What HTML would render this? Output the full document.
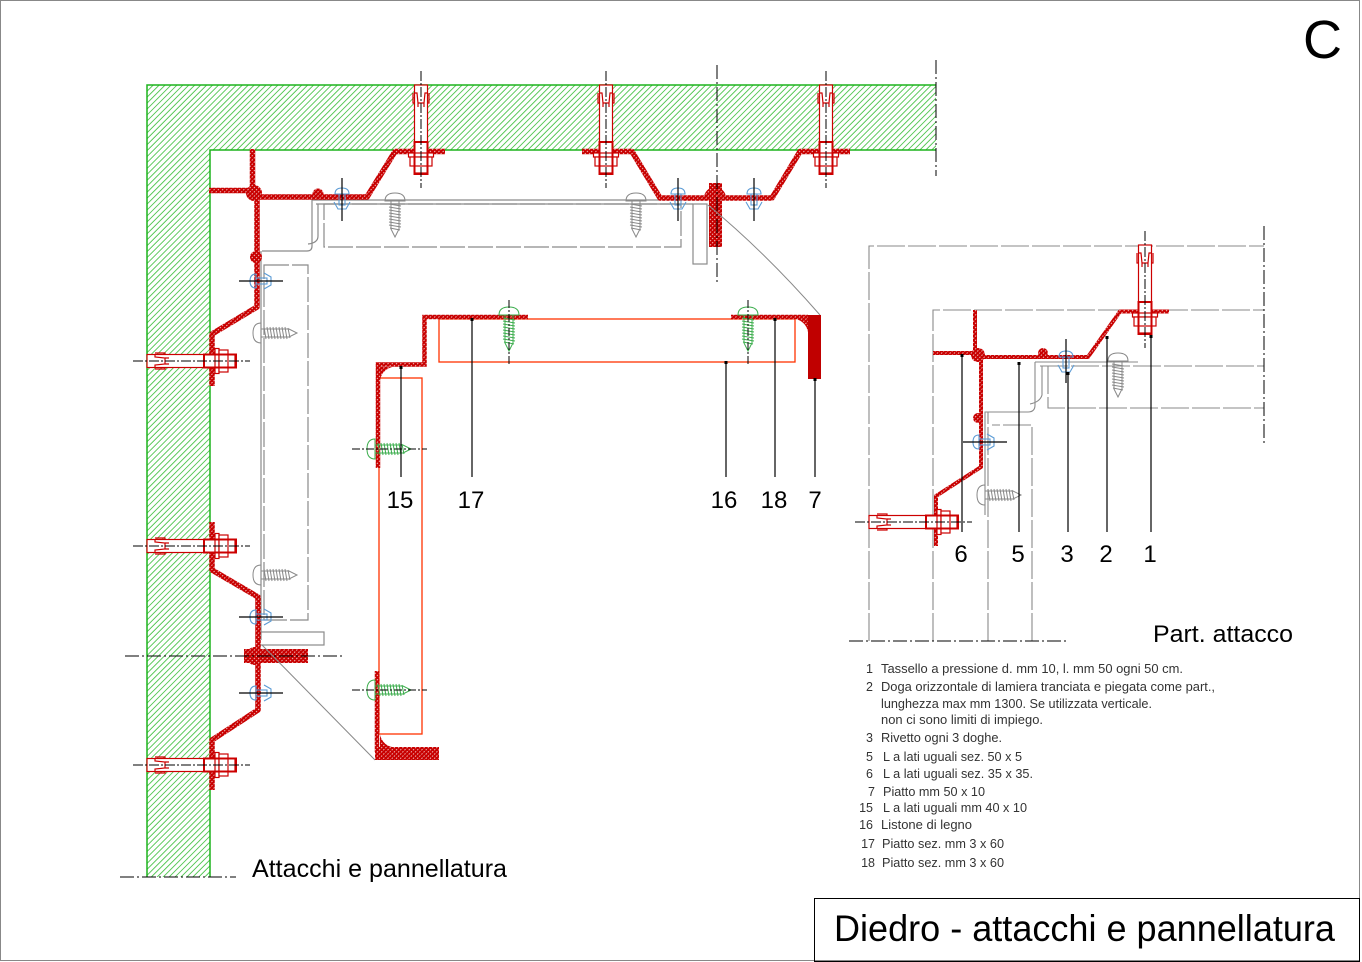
<!DOCTYPE html>
<html><head><meta charset="utf-8"><style>
html,body{margin:0;padding:0;background:#fff;}
svg{display:block;}
text{font-family:"Liberation Sans",Arial,sans-serif;}
</style></head><body>
<svg width="1362" height="962" viewBox="0 0 1362 962" xmlns="http://www.w3.org/2000/svg">
<defs>
<pattern id="gh" width="4.2" height="4.2" patternUnits="userSpaceOnUse" patternTransform="rotate(45)">
<line x1="0.5" y1="0" x2="0.5" y2="4.2" stroke="#28b828" stroke-width="0.75"/>
</pattern>
<pattern id="rh" width="3" height="3" patternUnits="userSpaceOnUse" patternTransform="rotate(45)">
<rect width="3" height="3" fill="#c80000"/>
<line x1="0.5" y1="0" x2="0.5" y2="3" stroke="#fff" stroke-width="0.7" stroke-dasharray="1.5,1.5"/>
</pattern>
</defs>

<!-- frame -->
<rect x="0.5" y="0.5" width="1359" height="960" fill="none" stroke="#888" stroke-width="1"/>
<text x="1303" y="58" font-size="54" fill="#000">C</text>

<!-- wall -->
<path d="M147,85 H936 V150 H210 V877 H147 Z" fill="url(#gh)"/>
<path d="M936,85 H147 V877 M936,150 H210 V877" fill="none" stroke="#1db31d" stroke-width="1.5"/>
<path d="M936,60 V176" stroke="#000" stroke-width="1" stroke-dasharray="14,3,2,3"/>
<path d="M120,877 H236" stroke="#000" stroke-width="1" stroke-dasharray="14,3,2,3"/>

<!-- gray elements main -->
<g fill="none" stroke="#8a8a8a" stroke-width="1.2">
<path d="M312,200 H707 M316,204 H693"/>
<rect x="324" y="204" width="357" height="43" stroke-dasharray="25,3"/>
<rect x="693" y="204" width="14" height="60"/>
<path d="M312,200 V246 Q312,251 307,251 H262"/>
<path d="M318,204 V236 Q318,243 308,244"/>
<path d="M261,251 V640"/>
<rect x="264" y="265" width="44" height="355" stroke-dasharray="25,3"/>
<rect x="260" y="632" width="64" height="13"/>
</g>

<!-- gray screws main -->
<g fill="none" stroke="#888" stroke-width="1">
<g transform="translate(395,193)"><path d="M-10,8 Q-10,0 0,0 Q10,0 10,8 Z"/><path d="M-4,8 V36 L0,44 L4,36 V8"/><path d="M-6,11 L6,13 M-6,14 L6,16 M-6,17 L6,19 M-6,20 L6,22 M-6,23 L6,25 M-6,26 L6,28 M-6,29 L6,31 M-6,32 L6,34 M-5,35 L5,37"/></g>
<g transform="translate(636,193)"><path d="M-10,8 Q-10,0 0,0 Q10,0 10,8 Z"/><path d="M-4,8 V36 L0,44 L4,36 V8"/><path d="M-6,11 L6,13 M-6,14 L6,16 M-6,17 L6,19 M-6,20 L6,22 M-6,23 L6,25 M-6,26 L6,28 M-6,29 L6,31 M-6,32 L6,34 M-5,35 L5,37"/></g>
<g transform="matrix(0,1,1,0,253,333)"><path d="M-10,8 Q-10,0 0,0 Q10,0 10,8 Z"/><path d="M-4,8 V36 L0,44 L4,36 V8"/><path d="M-6,11 L6,13 M-6,14 L6,16 M-6,17 L6,19 M-6,20 L6,22 M-6,23 L6,25 M-6,26 L6,28 M-6,29 L6,31 M-6,32 L6,34 M-5,35 L5,37"/></g>
<g transform="matrix(0,1,1,0,253,575)"><path d="M-10,8 Q-10,0 0,0 Q10,0 10,8 Z"/><path d="M-4,8 V36 L0,44 L4,36 V8"/><path d="M-6,11 L6,13 M-6,14 L6,16 M-6,17 L6,19 M-6,20 L6,22 M-6,23 L6,25 M-6,26 L6,28 M-6,29 L6,31 M-6,32 L6,34 M-5,35 L5,37"/></g>
</g>

<!-- red profiles main -->
<g fill="none" stroke="url(#rh)" stroke-width="5.5" stroke-linejoin="round">
<path d="M209,190.5 H253"/>
<path d="M252.5,149 V195"/>
<path d="M253,197 H367 L395,151.5 H445"/>
<path d="M582,151.5 H632 L660,198 H772 L800,151.5 H850"/>
<path d="M257,195 V307 L212,334 V386"/>
<path d="M212,522 V570 L258,597 V710 L212,740 V790"/>
</g>
<g fill="url(#rh)">
<circle cx="254" cy="193" r="8"/>
<circle cx="318" cy="194" r="5.5"/>
<circle cx="256" cy="257" r="6"/>
<path d="M704,198 A11,11 0 0 1 726,198 Z"/>
<rect x="709" y="183" width="13" height="64"/>
<path d="M246,656 A9,9 0 0 1 264,656 Z"/>
<path d="M246,656 A9,9 0 0 0 264,656 Z"/>
<rect x="244" y="649" width="64" height="14"/>
</g>

<!-- dash-dot lines main -->
<g stroke="#000" stroke-width="1" stroke-dasharray="14,3,2,3" fill="none">
<path d="M717,65 V284"/>
<path d="M125,656 H345"/>
</g>

<!-- bolts -->
<g>
<g transform="translate(421,0)"><g fill="#fff" stroke="#c00" stroke-width="1.2"><rect x="-6.5" y="85" width="13" height="88"/><rect x="-12.5" y="153" width="25" height="4"/><rect x="-11" y="157" width="22" height="9"/><rect x="-6.5" y="142" width="13" height="32" fill="none" stroke-width="2"/><path fill="none" d="M-6.5,93 H-4 L-3,103 H3 L4,93 H6.5 M-8,93 V103 H-6.5 M8,93 V103 H6.5 M-3,103 V107 M3,103 V107"/></g><path d="M0,71 V188" stroke="#000" stroke-width="1" stroke-dasharray="10,2,2,2"/></g>
<g transform="translate(606,0)"><g fill="#fff" stroke="#c00" stroke-width="1.2"><rect x="-6.5" y="85" width="13" height="88"/><rect x="-12.5" y="153" width="25" height="4"/><rect x="-11" y="157" width="22" height="9"/><rect x="-6.5" y="142" width="13" height="32" fill="none" stroke-width="2"/><path fill="none" d="M-6.5,93 H-4 L-3,103 H3 L4,93 H6.5 M-8,93 V103 H-6.5 M8,93 V103 H6.5 M-3,103 V107 M3,103 V107"/></g><path d="M0,71 V188" stroke="#000" stroke-width="1" stroke-dasharray="10,2,2,2"/></g>
<g transform="translate(826,0)"><g fill="#fff" stroke="#c00" stroke-width="1.2"><rect x="-6.5" y="85" width="13" height="88"/><rect x="-12.5" y="153" width="25" height="4"/><rect x="-11" y="157" width="22" height="9"/><rect x="-6.5" y="142" width="13" height="32" fill="none" stroke-width="2"/><path fill="none" d="M-6.5,93 H-4 L-3,103 H3 L4,93 H6.5 M-8,93 V103 H-6.5 M8,93 V103 H6.5 M-3,103 V107 M3,103 V107"/></g><path d="M0,71 V188" stroke="#000" stroke-width="1" stroke-dasharray="10,2,2,2"/></g>
<g transform="matrix(0,1,1,0,62,361)"><g fill="#fff" stroke="#c00" stroke-width="1.2"><rect x="-6.5" y="85" width="13" height="88"/><rect x="-12.5" y="153" width="25" height="4"/><rect x="-11" y="157" width="22" height="9"/><rect x="-6.5" y="142" width="13" height="32" fill="none" stroke-width="2"/><path fill="none" d="M-6.5,93 H-4 L-3,103 H3 L4,93 H6.5 M-8,93 V103 H-6.5 M8,93 V103 H6.5 M-3,103 V107 M3,103 V107"/></g><path d="M0,71 V188" stroke="#000" stroke-width="1" stroke-dasharray="10,2,2,2"/></g>
<g transform="matrix(0,1,1,0,62,546)"><g fill="#fff" stroke="#c00" stroke-width="1.2"><rect x="-6.5" y="85" width="13" height="88"/><rect x="-12.5" y="153" width="25" height="4"/><rect x="-11" y="157" width="22" height="9"/><rect x="-6.5" y="142" width="13" height="32" fill="none" stroke-width="2"/><path fill="none" d="M-6.5,93 H-4 L-3,103 H3 L4,93 H6.5 M-8,93 V103 H-6.5 M8,93 V103 H6.5 M-3,103 V107 M3,103 V107"/></g><path d="M0,71 V188" stroke="#000" stroke-width="1" stroke-dasharray="10,2,2,2"/></g>
<g transform="matrix(0,1,1,0,62,765)"><g fill="#fff" stroke="#c00" stroke-width="1.2"><rect x="-6.5" y="85" width="13" height="88"/><rect x="-12.5" y="153" width="25" height="4"/><rect x="-11" y="157" width="22" height="9"/><rect x="-6.5" y="142" width="13" height="32" fill="none" stroke-width="2"/><path fill="none" d="M-6.5,93 H-4 L-3,103 H3 L4,93 H6.5 M-8,93 V103 H-6.5 M8,93 V103 H6.5 M-3,103 V107 M3,103 V107"/></g><path d="M0,71 V188" stroke="#000" stroke-width="1" stroke-dasharray="10,2,2,2"/></g>
</g>

<!-- rivets main -->
<g>
<g transform="translate(342,199)"><g fill="none" stroke="#5b9bd5" stroke-width="1.1"><path d="M-7,-5 Q-7,-11 0,-11 Q7,-11 7,-5 Z"/><rect x="-3" y="-5" width="6" height="11"/><path d="M-8,3 L-4,10 H4 L8,3"/></g><path d="M0,-21 V22" stroke="#000" stroke-width="1.2"/></g>
<g transform="translate(678,199)"><g fill="none" stroke="#5b9bd5" stroke-width="1.1"><path d="M-7,-5 Q-7,-11 0,-11 Q7,-11 7,-5 Z"/><rect x="-3" y="-5" width="6" height="11"/><path d="M-8,3 L-4,10 H4 L8,3"/></g><path d="M0,-21 V22" stroke="#000" stroke-width="1.2"/></g>
<g transform="translate(754,199)"><g fill="none" stroke="#5b9bd5" stroke-width="1.1"><path d="M-7,-5 Q-7,-11 0,-11 Q7,-11 7,-5 Z"/><rect x="-3" y="-5" width="6" height="11"/><path d="M-8,3 L-4,10 H4 L8,3"/></g><path d="M0,-21 V22" stroke="#000" stroke-width="1.2"/></g>
<g transform="matrix(0,1,1,0,261,281)"><g fill="none" stroke="#5b9bd5" stroke-width="1.1"><path d="M-7,-5 Q-7,-11 0,-11 Q7,-11 7,-5 Z"/><rect x="-3" y="-5" width="6" height="11"/><path d="M-8,3 L-4,10 H4 L8,3"/></g><path d="M0,-22 V22" stroke="#000" stroke-width="1.2"/></g>
<g transform="matrix(0,1,1,0,261,617)"><g fill="none" stroke="#5b9bd5" stroke-width="1.1"><path d="M-7,-5 Q-7,-11 0,-11 Q7,-11 7,-5 Z"/><rect x="-3" y="-5" width="6" height="11"/><path d="M-8,3 L-4,10 H4 L8,3"/></g><path d="M0,-22 V22" stroke="#000" stroke-width="1.2"/></g>
<g transform="matrix(0,1,1,0,261,693)"><g fill="none" stroke="#5b9bd5" stroke-width="1.1"><path d="M-7,-5 Q-7,-11 0,-11 Q7,-11 7,-5 Z"/><rect x="-3" y="-5" width="6" height="11"/><path d="M-8,3 L-4,10 H4 L8,3"/></g><path d="M0,-22 V22" stroke="#000" stroke-width="1.2"/></g>
</g>

<!-- magnification lines -->
<path d="M708,205 Q765,252 820,315" fill="none" stroke="#888" stroke-width="1"/>
<path d="M262,645 L375,760" fill="none" stroke="#888" stroke-width="1"/>

<!-- middle detail -->
<g fill="none" stroke="#ff3300" stroke-width="1.3">
<rect x="439" y="319" width="356" height="43"/>
<rect x="379" y="378" width="43" height="356"/>
</g>
<g fill="none" stroke="url(#rh)" stroke-width="4.5" stroke-linejoin="miter">
<path d="M378,468 V364.5 H424.5 V317 H528"/>
<path d="M731,317 H808"/>
<path d="M377,671 V752"/>
</g>
<g fill="url(#rh)">
<rect x="375" y="747" width="64" height="13"/>
<path d="M380,367 H392 Q382,370 380,380 Z"/>
<path d="M380,747 V735 Q383,745 392,747 Z"/>
<path d="M808,319 H796 Q806,322 808,332 Z"/>
</g>
<rect x="808" y="315" width="13" height="64" fill="#c00000"/>

<!-- green screws -->
<g fill="none" stroke="#3dae4e" stroke-width="1">
<g transform="translate(509,307)"><path d="M-10,8 Q-10,0 0,0 Q10,0 10,8 Z"/><path d="M-4,8 V36 L0,44 L4,36 V8"/><path d="M-6,11 L6,13 M-6,14 L6,16 M-6,17 L6,19 M-6,20 L6,22 M-6,23 L6,25 M-6,26 L6,28 M-6,29 L6,31 M-6,32 L6,34 M-5,35 L5,37"/></g>
<g transform="translate(748,307)"><path d="M-10,8 Q-10,0 0,0 Q10,0 10,8 Z"/><path d="M-4,8 V36 L0,44 L4,36 V8"/><path d="M-6,11 L6,13 M-6,14 L6,16 M-6,17 L6,19 M-6,20 L6,22 M-6,23 L6,25 M-6,26 L6,28 M-6,29 L6,31 M-6,32 L6,34 M-5,35 L5,37"/></g>
<g transform="matrix(0,1,1,0,367,449)"><path d="M-10,8 Q-10,0 0,0 Q10,0 10,8 Z"/><path d="M-4,8 V36 L0,44 L4,36 V8"/><path d="M-6,11 L6,13 M-6,14 L6,16 M-6,17 L6,19 M-6,20 L6,22 M-6,23 L6,25 M-6,26 L6,28 M-6,29 L6,31 M-6,32 L6,34 M-5,35 L5,37"/></g>
<g transform="matrix(0,1,1,0,367,690)"><path d="M-10,8 Q-10,0 0,0 Q10,0 10,8 Z"/><path d="M-4,8 V36 L0,44 L4,36 V8"/><path d="M-6,11 L6,13 M-6,14 L6,16 M-6,17 L6,19 M-6,20 L6,22 M-6,23 L6,25 M-6,26 L6,28 M-6,29 L6,31 M-6,32 L6,34 M-5,35 L5,37"/></g>
</g>
<g stroke="#000" stroke-width="1" stroke-dasharray="8,2,2,2" fill="none">
<path d="M509,300 V365 M748,300 V365 M352,449 H427 M352,690 H427"/>
</g>

<!-- leaders middle -->
<g stroke="#000" stroke-width="1.2" fill="none">
<path d="M401,367 V477 M472,319 V477 M726,362 V477 M775,319 V477 M815,379 V477"/>
</g>
<g fill="#000">
<rect x="399.5" y="366" width="3" height="3"/><rect x="470.5" y="318" width="3" height="3"/><rect x="724.5" y="361" width="3" height="3"/><rect x="773.5" y="318" width="3" height="3"/><rect x="813.5" y="378" width="3" height="3"/>
</g>
<g font-size="24" fill="#000" text-anchor="middle">
<text x="400" y="508">15</text>
<text x="471" y="508">17</text>
<text x="724" y="508">16</text>
<text x="774" y="508">18</text>
<text x="815" y="508">7</text>
</g>

<!-- right detail -->
<g fill="none" stroke="#8a8a8a" stroke-width="1.1">
<path d="M869,641 V246 H1264" stroke-dasharray="28,3"/>
<path d="M933,641 V310 H1264" stroke-dasharray="28,3"/>
<path d="M1040,366 H1264" stroke-dasharray="28,3"/>
<path d="M1048,366 V408 H1264" stroke-dasharray="28,3"/>
<path d="M988,641 V412" stroke-dasharray="28,3"/>
<path d="M1032,641 V425 H992" stroke-dasharray="28,3"/>
<path d="M1035,362 H1138 M1035,362 V405 Q1035,412 1028,412 H985 V515"/>
<path d="M1042,366 V395 Q1040,402 1030,404"/>
</g>
<path d="M1264,226 V445" stroke="#000" stroke-width="1" stroke-dasharray="14,3,2,3"/>
<path d="M849,641 H1068" stroke="#000" stroke-width="1" stroke-dasharray="14,3,2,3"/>

<g fill="none" stroke="#888" stroke-width="1">
<g transform="translate(1118,353)"><path d="M-10,8 Q-10,0 0,0 Q10,0 10,8 Z"/><path d="M-4,8 V36 L0,44 L4,36 V8"/><path d="M-6,11 L6,13 M-6,14 L6,16 M-6,17 L6,19 M-6,20 L6,22 M-6,23 L6,25 M-6,26 L6,28 M-6,29 L6,31 M-6,32 L6,34 M-5,35 L5,37"/></g>
<g transform="matrix(0,1,1,0,977,495)"><path d="M-10,8 Q-10,0 0,0 Q10,0 10,8 Z"/><path d="M-4,8 V36 L0,44 L4,36 V8"/><path d="M-6,11 L6,13 M-6,14 L6,16 M-6,17 L6,19 M-6,20 L6,22 M-6,23 L6,25 M-6,26 L6,28 M-6,29 L6,31 M-6,32 L6,34 M-5,35 L5,37"/></g>
</g>

<g fill="none" stroke="url(#rh)" stroke-width="4" stroke-linejoin="round">
<path d="M975,310 V354"/>
<path d="M933,353 H976"/>
<path d="M976,357 H1088 L1120,311.5 H1169"/>
<path d="M981,357 V467 L936,496 V546"/>
</g>
<g fill="url(#rh)">
<circle cx="978" cy="355" r="7"/>
<circle cx="1043" cy="353" r="5"/>
<circle cx="978" cy="418" r="5"/>
</g>

<g transform="translate(1145,160)"><g fill="#fff" stroke="#c00" stroke-width="1.2"><rect x="-6.5" y="85" width="13" height="88"/><rect x="-12.5" y="153" width="25" height="4"/><rect x="-11" y="157" width="22" height="9"/><rect x="-6.5" y="142" width="13" height="32" fill="none" stroke-width="2"/><path fill="none" d="M-6.5,93 H-4 L-3,103 H3 L4,93 H6.5 M-8,93 V103 H-6.5 M8,93 V103 H6.5 M-3,103 V107 M3,103 V107"/></g><path d="M0,71 V188" stroke="#000" stroke-width="1" stroke-dasharray="10,2,2,2"/></g>
<g transform="matrix(0,1,1,0,784,522)"><g fill="#fff" stroke="#c00" stroke-width="1.2"><rect x="-6.5" y="85" width="13" height="88"/><rect x="-12.5" y="153" width="25" height="4"/><rect x="-11" y="157" width="22" height="9"/><rect x="-6.5" y="142" width="13" height="32" fill="none" stroke-width="2"/><path fill="none" d="M-6.5,93 H-4 L-3,103 H3 L4,93 H6.5 M-8,93 V103 H-6.5 M8,93 V103 H6.5 M-3,103 V107 M3,103 V107"/></g><path d="M0,71 V188" stroke="#000" stroke-width="1" stroke-dasharray="10,2,2,2"/></g>

<g transform="translate(1066,362)"><g fill="none" stroke="#5b9bd5" stroke-width="1.1"><path d="M-7,-5 Q-7,-11 0,-11 Q7,-11 7,-5 Z"/><rect x="-3" y="-5" width="6" height="11"/><path d="M-8,3 L-4,10 H4 L8,3"/></g><path d="M0,-23 V21" stroke="#000" stroke-width="1.2"/></g>
<g transform="matrix(0,1,1,0,984,442)"><g fill="none" stroke="#5b9bd5" stroke-width="1.1"><path d="M-7,-5 Q-7,-11 0,-11 Q7,-11 7,-5 Z"/><rect x="-3" y="-5" width="6" height="11"/><path d="M-8,3 L-4,10 H4 L8,3"/></g><path d="M0,-21 V23" stroke="#000" stroke-width="1.2"/></g>

<g stroke="#000" stroke-width="1.2" fill="none">
<path d="M962,355 V532 M1019,363 V532 M1068,373 V532 M1107,337 V532 M1151,336 V532"/>
</g>
<g fill="#000">
<rect x="960.5" y="354" width="3" height="3"/><rect x="1017.5" y="362" width="3" height="3"/><rect x="1066.5" y="372" width="3" height="3"/><rect x="1105.5" y="336" width="3" height="3"/><rect x="1149.5" y="335" width="3" height="3"/>
</g>
<g font-size="24" fill="#000" text-anchor="middle">
<text x="961" y="562">6</text>
<text x="1018" y="562">5</text>
<text x="1067" y="562">3</text>
<text x="1106" y="562">2</text>
<text x="1150" y="562">1</text>
</g>
<text x="1153" y="642" font-size="24" fill="#000" textLength="140" lengthAdjust="spacingAndGlyphs">Part. attacco</text>

<!-- legend -->
<g font-size="12.5" fill="#333">
<g text-anchor="end">
<text x="873" y="673">1</text>
<text x="873" y="691">2</text>
<text x="873" y="742">3</text>
<text x="873" y="761">5</text>
<text x="873" y="778">6</text>
<text x="875" y="796">7</text>
<text x="873" y="812">15</text>
<text x="873" y="829">16</text>
<text x="875" y="848">17</text>
<text x="875" y="867">18</text>
</g>
<text x="881" y="673" textLength="302" lengthAdjust="spacingAndGlyphs">Tassello a pressione d. mm 10, l. mm 50 ogni 50 cm.</text>
<text x="881" y="691" textLength="334" lengthAdjust="spacingAndGlyphs">Doga orizzontale di lamiera tranciata e piegata come part.,</text>
<text x="881" y="708" textLength="271" lengthAdjust="spacingAndGlyphs">lunghezza max mm 1300. Se utilizzata verticale.</text>
<text x="881" y="724" textLength="162" lengthAdjust="spacingAndGlyphs">non ci sono limiti di impiego.</text>
<text x="881" y="742" textLength="121" lengthAdjust="spacingAndGlyphs">Rivetto ogni 3 doghe.</text>
<text x="883" y="761" textLength="139" lengthAdjust="spacingAndGlyphs">L a lati uguali sez. 50 x 5</text>
<text x="883" y="778" textLength="150" lengthAdjust="spacingAndGlyphs">L a lati uguali sez. 35 x 35.</text>
<text x="883" y="796" textLength="102" lengthAdjust="spacingAndGlyphs">Piatto mm 50 x 10</text>
<text x="883" y="812" textLength="144" lengthAdjust="spacingAndGlyphs">L a lati uguali mm 40 x 10</text>
<text x="881" y="829" textLength="91" lengthAdjust="spacingAndGlyphs">Listone di legno</text>
<text x="882" y="848" textLength="122" lengthAdjust="spacingAndGlyphs">Piatto sez. mm 3 x 60</text>
<text x="882" y="867" textLength="122" lengthAdjust="spacingAndGlyphs">Piatto sez. mm 3 x 60</text>
</g>

<!-- caption left -->
<text x="252" y="877" font-size="25" fill="#000" textLength="255" lengthAdjust="spacingAndGlyphs">Attacchi e pannellatura</text>

<!-- title box -->
<rect x="814.5" y="898.5" width="545" height="63" fill="none" stroke="#000" stroke-width="1"/>
<text x="834" y="941" font-size="37" fill="#000" textLength="501" lengthAdjust="spacingAndGlyphs">Diedro - attacchi e pannellatura</text>
</svg>
</body></html>
